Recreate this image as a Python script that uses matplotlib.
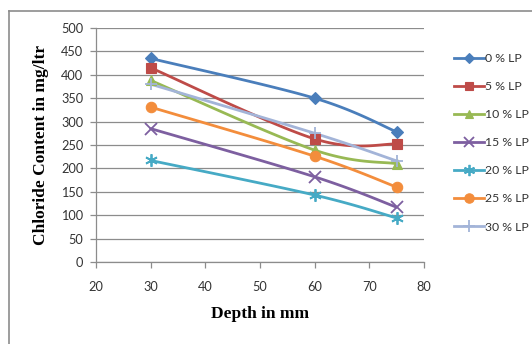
import numpy as np
import matplotlib.pyplot as plt
from matplotlib.lines import Line2D

# Profundidade (mm) e teor de cloretos (mg/ltr) para cada teor de LP
depth = [30, 60, 75]
lp_0 = [435, 350, 278]
lp_5 = [415, 263, 252]
lp_10 = [388, 239, 210]
lp_15 = [285, 182, 117]
lp_20 = [217, 143, 94]
lp_25 = [331, 226, 160]
lp_30 = [380, 275, 216]

labels = ['0 % LP', '5 % LP', '10 % LP', '15 % LP', '20 % LP', '25 % LP', '30 % LP']
series = [lp_0, lp_5, lp_10, lp_15, lp_20, lp_25, lp_30]
colors = ['#4A7EBB', '#BE4B48', '#98B954', '#7D5FA0', '#46AAC5', '#F38D3C', '#A3B4D8']
markers = ['D', 's', '^', 'x', (6, 2, 0), 'o', '+']
msizes = [6, 7, 7, 8, 9, 7.5, 9]


def smooth_curve(ax, xs, ys, n=40):
    """Curva suavizada (bezier estilo Excel) calculada em coordenadas de tela."""
    pts = ax.transData.transform(np.column_stack([xs, ys]))
    ext = np.vstack([pts[0], pts, pts[-1]])
    out = []
    t = np.linspace(0, 1, n)[:, None]
    for i in range(len(pts) - 1):
        p0 = ext[i + 1]
        p3 = ext[i + 2]
        p1 = p0 + (ext[i + 2] - ext[i]) / 6.0
        p2 = p3 - (ext[i + 3] - ext[i + 1]) / 6.0
        seg = ((1 - t) ** 3) * p0 + 3 * ((1 - t) ** 2) * t * p1 + 3 * (1 - t) * t ** 2 * p2 + t ** 3 * p3
        out.append(seg)
    out = np.vstack(out)
    data = ax.transData.inverted().transform(out)
    return data[:, 0], data[:, 1]


fig = plt.figure(figsize=(5.32, 3.44), dpi=100)
ax = fig.add_axes([96 / 532, 1 - 262 / 344, (424 - 96) / 532, (262 - 28) / 344])

ax.set_xlim(20, 80)
ax.set_ylim(0, 500)
ax.set_xticks(range(20, 81, 10))
ax.set_yticks(range(0, 501, 50))

tick_font = {'family': 'Lato', 'size': 9.2, 'color': '#333333'}
ax.set_xticklabels([str(v) for v in range(20, 81, 10)], fontdict=tick_font)
ax.set_yticklabels([str(v) for v in range(0, 501, 50)], fontdict=tick_font)

ax.grid(axis='y', color='#8C8C8C', linewidth=0.9)
ax.set_axisbelow(True)
for side in ['top', 'right']:
    ax.spines[side].set_visible(False)
for side in ['left', 'bottom']:
    ax.spines[side].set_color('#8C8C8C')
    ax.spines[side].set_linewidth(0.9)
ax.tick_params(axis='both', direction='out', length=4, color='#8C8C8C', width=0.9)
ax.tick_params(axis='x', pad=10)
ax.tick_params(axis='y', pad=5)

# desenha as curvas e os marcadores
handles = []
for vals, lab, c, m, ms in zip(series, labels, colors, markers, msizes):
    mew = 1.3 if m in ('x', '+') or isinstance(m, tuple) else 0.8
    sx, sy = smooth_curve(ax, depth, vals)
    ax.plot(sx, sy, color=c, linewidth=2.0, solid_capstyle='round', zorder=3)
    ax.plot(depth, vals, linestyle='none', marker=m, markersize=ms, color=c,
            markeredgewidth=mew, zorder=4)
    handles.append(Line2D([], [], color=c, linewidth=2.0, marker=m, markersize=ms * 0.9,
                          markeredgewidth=mew))

ax.set_xlabel('Depth in mm', fontdict={'family': 'Liberation Serif', 'weight': 'bold', 'size': 12.5},
              labelpad=9)
ax.set_ylabel('Chloride Content in mg/ltr', fontdict={'family': 'Liberation Serif', 'weight': 'bold', 'size': 12.5},
              labelpad=9)

leg = fig.legend(handles, labels, loc='upper left', bbox_to_anchor=(449 / 532, 1 - 48 / 344),
                 frameon=False, prop={'family': 'Lato', 'size': 8.8}, handlelength=2.45,
                 handletextpad=0.1, labelspacing=1.4, borderaxespad=0)
for t in leg.get_texts():
    t.set_color('#333333')

# moldura externa do grafico
fig.add_artist(Line2D([9 / 532, 9 / 532], [0, 1 - 11 / 344], color='#8C8C8C', linewidth=1.2,
                      transform=fig.transFigure))
fig.add_artist(Line2D([9 / 532, 1], [1 - 11 / 344, 1 - 11 / 344], color='#8C8C8C', linewidth=1.2,
                      transform=fig.transFigure))

fig.savefig('out.png', dpi=100)
